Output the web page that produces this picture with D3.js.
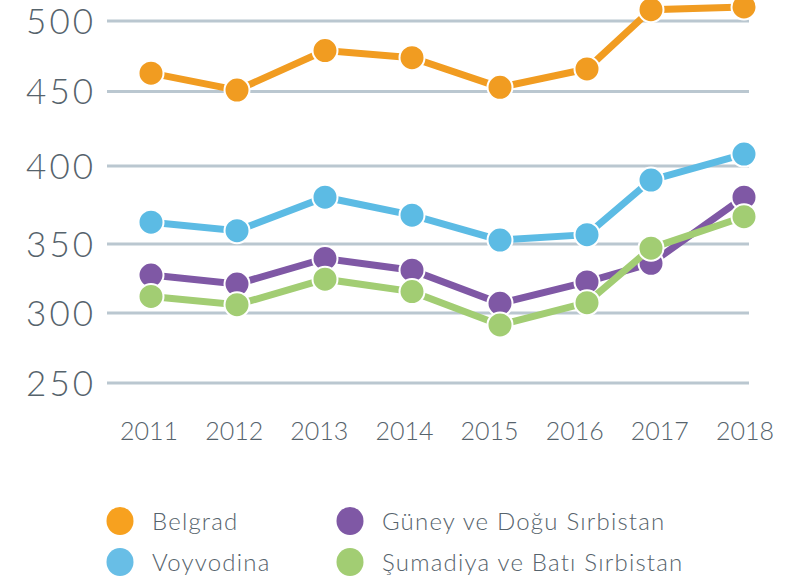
<!DOCTYPE html>
<html>
<head>
<meta charset="utf-8">
<script src="https://cdn.jsdelivr.net/npm/d3@7"></script>
<style>
  body { margin: 0; background: #fff; }
  text { font-family: Lato, "Open Sans", sans-serif; font-weight: 300; fill: #56636c; }
</style>
</head>
<body>
<div id="chart"></div>
<script>
// data
const years = [2011, 2012, 2013, 2014, 2015, 2016, 2017, 2018];
const yTicks = [250, 300, 350, 400, 450, 500];
const seriesNames = ["Belgrad", "Voyvodina", "Güney ve Doğu Sırbistan", "Şumadiya ve Batı Sırbistan"];
const belgrad = [463, 451, 479, 474, 453, 466, 508, 510];
const voyvodina = [364, 358.5, 380, 368.5, 352.5, 356, 391, 408];
const guney = [327.5, 321, 339.5, 331, 307, 322.5, 336, 380];
const sumadiya = [312, 306, 324.5, 315.5, 291.5, 307.5, 347, 367.5];
const colors = ["#f19c21", "#5cbbe4", "#7f58a5", "#a2cd73"];
const legendColors = ["#f7a11f", "#68bee6", "#7f58a5", "#a2cd73"];

const width = 787, height = 583;

const svg = d3.select("#chart")
  .append("svg")
  .attr("width", width)
  .attr("height", height);

// the source chart is not perfectly even, so piecewise scales
const y = d3.scaleLinear()
  .domain(yTicks)
  .range([383, 313, 244, 166, 91.5, 21]);

const xLabel = d3.scalePoint()
  .domain(years)
  .range([149, 745]);

const xDot = d3.scaleLinear()
  .domain(years)
  .range([151, 237, 325, 412, 500, 587, 651, 744]);

// grid lines
svg.append("g")
  .selectAll("line")
  .data(yTicks)
  .enter()
  .append("line")
  .attr("x1", 107)
  .attr("x2", 749)
  .attr("y1", d => y(d))
  .attr("y2", d => y(d))
  .style("stroke", "#bac7d0")
  .style("stroke-width", 3);

// y labels
svg.append("g")
  .selectAll("text")
  .data(yTicks)
  .enter()
  .append("text")
  .attr("x", 96)
  .attr("y", d => y(d))
  .attr("dy", "0.36em")
  .attr("text-anchor", "end")
  .style("font-size", "35px")
  .style("letter-spacing", "3px")
  .text(d => d);

// x labels
svg.append("g")
  .selectAll("text")
  .data(years)
  .enter()
  .append("text")
  .attr("x", d => xLabel(d))
  .attr("y", 440)
  .attr("text-anchor", "middle")
  .style("font-size", "25px")
  .text(d => d);

const allSeries = [belgrad, voyvodina, guney, sumadiya];

const line = d3.line()
  .x((d, i) => xDot(years[i]))
  .y(d => y(d));

allSeries.forEach(function(values, k) {
  const g = svg.append("g");
  g.append("path")
    .datum(values)
    .attr("d", line)
    .style("fill", "none")
    .style("stroke", colors[k])
    .style("stroke-width", 7);
  g.selectAll("circle")
    .data(values)
    .enter()
    .append("circle")
    .attr("cx", (d, i) => xDot(years[i]))
    .attr("cy", d => y(d))
    .attr("r", 12.5)
    .style("fill", colors[k])
    .style("stroke", "#fff")
    .style("stroke-width", 2);
});

// legend
const legendPos = [[120, 521], [120, 562], [350, 521], [350, 562]];
const legend = svg.append("g")
  .selectAll("g")
  .data(seriesNames)
  .enter()
  .append("g")
  .attr("transform", (d, i) => "translate(" + legendPos[i][0] + "," + legendPos[i][1] + ")");

legend.append("ellipse")
  .attr("rx", 13.5)
  .attr("ry", 14)
  .style("fill", (d, i) => legendColors[i]);

legend.append("text")
  .attr("x", 32)
  .attr("dy", "0.36em")
  .style("font-size", "24px")
  .style("letter-spacing", "1.2px")
  .text(d => d);
</script>
</body>
</html>
